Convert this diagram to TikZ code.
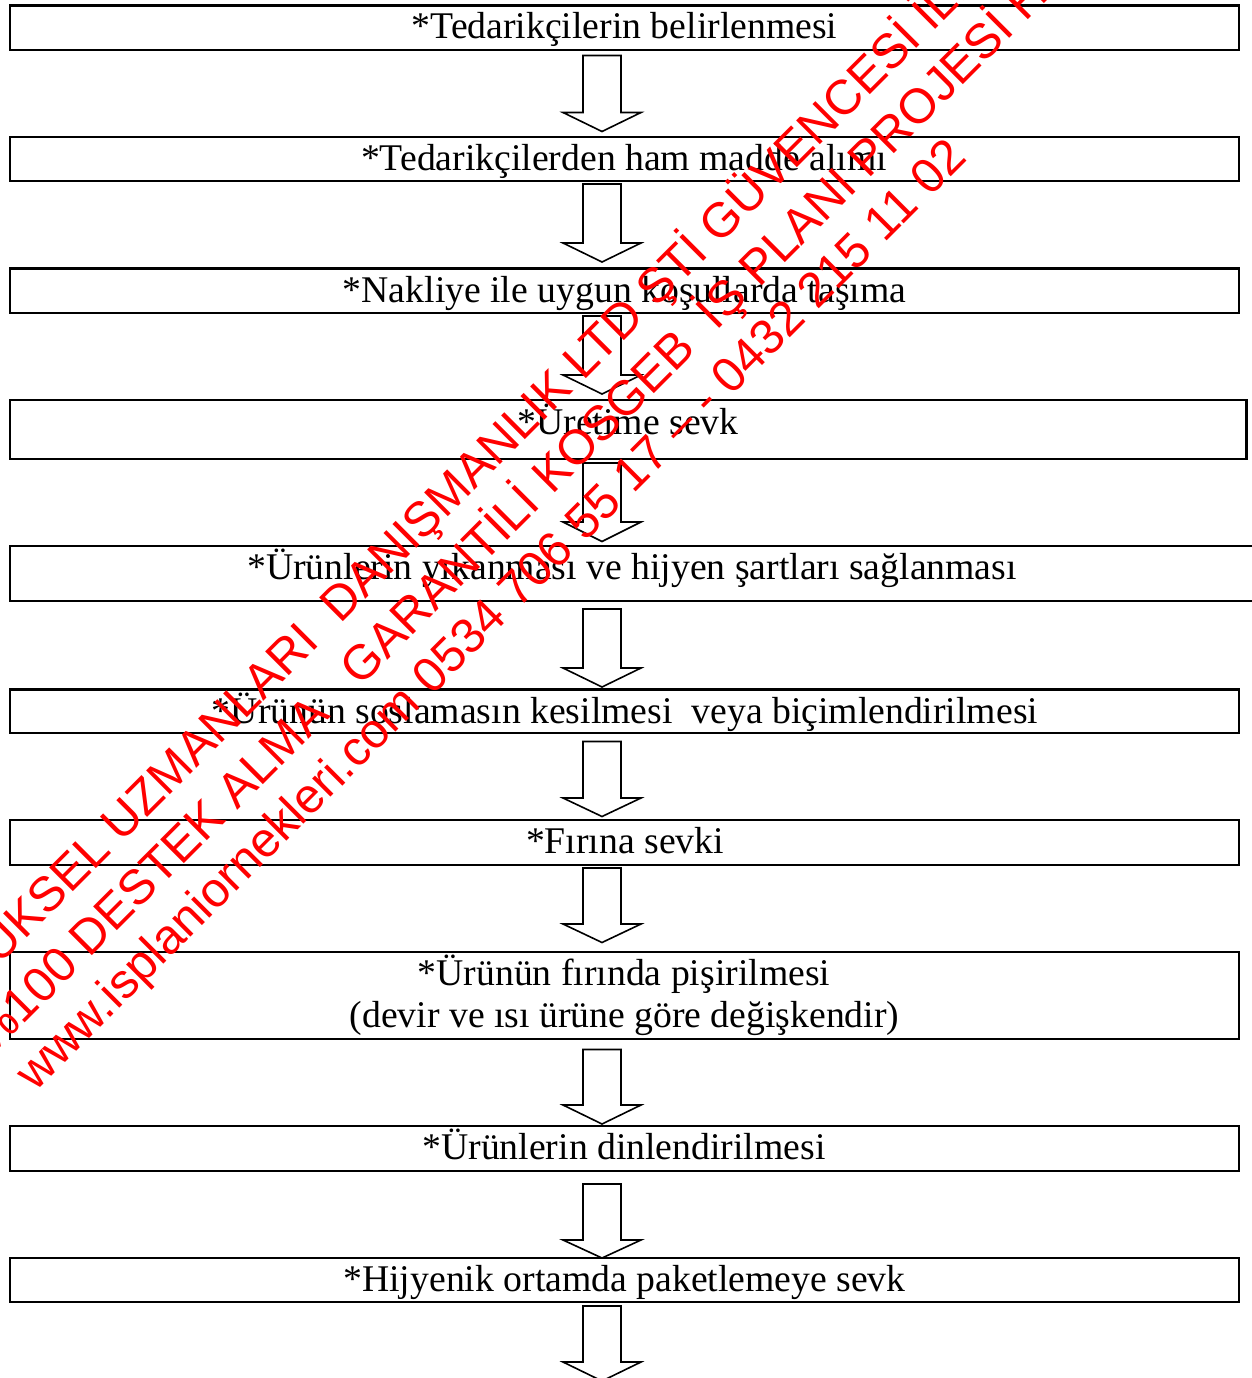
\documentclass[tikz,border=0pt]{standalone}
\usepackage{fontspec}
\setmainfont{Liberation Serif}
\newfontfamily\wmfont{Liberation Sans}
\begin{document}
\begin{tikzpicture}[x=1pt,y=-1pt,
  box/.style={draw, line width=2.8pt, inner sep=0pt, outer sep=0pt},
  lbl/.style={inner sep=0pt, anchor=base, font=\fontsize{37.7}{41.5}\selectfont},
  blk/.style={draw, line width=1.6pt, fill=white, line join=miter},
  wm/.style={inner sep=0pt, anchor=base west, rotate=45, text=red, font=\wmfont\fontsize{48.8}{55}\selectfont}]
\useasboundingbox (0,0) rectangle (1252,1378);
% boxes
\node[box, minimum width=1229pt, minimum height=44.5pt] (b1) at (624.5,27.75) {};
\node[box, minimum width=1229pt, minimum height=44pt] (b2) at (624.5,159) {};
\node[box, minimum width=1229pt, minimum height=44.5pt] (b3) at (624.5,290.75) {};
\node[box, minimum width=1236.5pt, minimum height=59pt] (b4) at (628.25,429.5) {};
\node[box, minimum width=1248pt, minimum height=55pt] (b5) at (634,573.5) {};
\node[box, minimum width=1229pt, minimum height=43.5pt] (b6) at (624.5,711.25) {};
\node[box, minimum width=1229pt, minimum height=45pt] (b7) at (624.5,842.5) {};
\node[box, minimum width=1229pt, minimum height=87pt] (b8) at (624.5,995.5) {};
\node[box, minimum width=1229pt, minimum height=45pt] (b9) at (624.5,1148.5) {};
\node[box, minimum width=1229pt, minimum height=44pt] (b10) at (624.5,1280) {};
% block arrows
\foreach \t/\b/\p in {55.5/112.5/131.5, 184/243/262, 316/375/394, 463/522/541.5, 609/668/687, 741.5/798/816.5, 868/924/942.5, 1049.5/1105/1124, 1184/1240/1258, 1306/1362/1381}
  \draw[blk] (583,\t) -- (621,\t) -- (621,\b) -- (641,\b) -- (602,\p) -- (563,\b) -- (583,\b) -- cycle;
% texts
\node[lbl] (t1) at (624.5,39) {*Tedarikçilerin belirlenmesi};
\node[lbl] (t2) at (624,170.5) {*Tedarikçilerden ham madde alımı};
\node[lbl] (t3) at (624.5,302) {*Nakliye ile uygun koşullarda taşıma};
\node[lbl] (t4) at (628,434) {*Üretime sevk};
\node[lbl] (t5) at (632,579.5) {*Ürünlerin yıkanması ve hijyen şartları sağlanması};
\node[lbl] (t6) at (625,723) {*Ürünün soslamasın kesilmesi\ \ veya biçimlendirilmesi};
\node[lbl] (t7) at (625,853.5) {*Fırına sevki};
\node[lbl] (t8a) at (624,985.5) {*Ürünün fırında pişirilmesi};
\node[lbl] (t8b) at (624.5,1027) {(devir ve ısı ürüne göre değişkendir)};
\node[lbl] (t9) at (624,1159.5) {*Ürünlerin dinlendirilmesi};
\node[lbl] (t10) at (624.5,1291.5) {*Hijyenik ortamda paketlemeye sevk};
% watermark
\node[wm] (w1) at (-24,989) {YÜKSEL UZMANLARI\ \ DANIŞMANLIK LTD ŞTİ GÜVENCESİ İLE};
\node[wm] (w2) at (-8,1056) {\%100 DESTEK ALMA\ \ \ GARANTİLİ KOSGEB\ \ İŞ PLANI PROJESİ HA};
\node[wm] (w3) at (35,1093) {www.isplaniornekleri.com 0534 706 55 17 – - 0432 215 11 02};
\end{tikzpicture}
\end{document}
